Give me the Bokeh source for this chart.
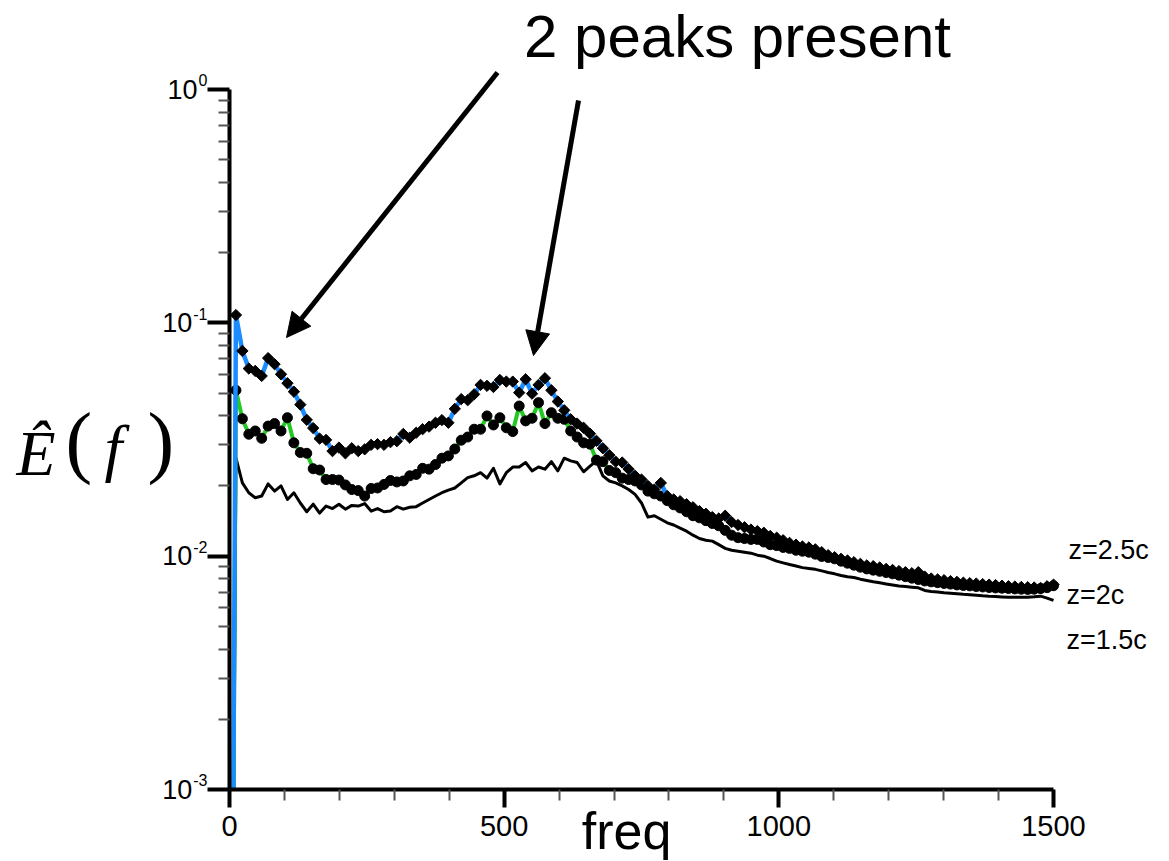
import numpy as np
from bokeh.plotting import figure
from bokeh.models import Label, Arrow, NormalHead, FixedTicker, CustomJSTickFormatter
from bokeh.embed import file_html
from bokeh.resources import INLINE

# ---------------- data ----------------
N_BINS = 129
freq = np.arange(N_BINS) * (1500.0 / 128)   # frequency bins (uniform grid)

e_z25 = [1e-6,
    0.108, 0.0758, 0.0637, 0.0622, 0.0592, 0.0706, 0.0665, 0.0602, 0.0551, 0.0507,
    0.0446, 0.0384, 0.0354, 0.0319, 0.0315, 0.0282, 0.0292, 0.0276, 0.0290, 0.0282,
    0.0287, 0.0300, 0.0302, 0.0300, 0.0308, 0.0311, 0.0334, 0.0322, 0.0338, 0.0350,
    0.0359, 0.0373, 0.0383, 0.0373, 0.0428, 0.0471, 0.0466, 0.0494, 0.0542, 0.0537,
    0.0531, 0.0569, 0.0560, 0.0560, 0.0502, 0.0573, 0.0497, 0.0542, 0.0579, 0.0514,
    0.0460, 0.0422, 0.0386, 0.0370, 0.0355, 0.0335, 0.0312, 0.0290, 0.0271, 0.0254,
    0.0252, 0.0236, 0.0221, 0.0213, 0.0200, 0.0193, 0.0206, 0.0181, 0.0175, 0.0172,
    0.0167, 0.0162, 0.0156, 0.0152, 0.0147, 0.0145, 0.0149, 0.0140, 0.0136, 0.0133,
    0.0130, 0.0128, 0.0126, 0.0122, 0.0120, 0.0117, 0.0114, 0.0112, 0.0110, 0.0109,
    0.0107, 0.0104, 0.0101, 0.00990, 0.00974, 0.00958, 0.00942, 0.00927, 0.00913, 0.00906,
    0.00894, 0.00882, 0.00873, 0.00863, 0.00854, 0.00845, 0.00854, 0.00817, 0.00802, 0.00795,
    0.00789, 0.00782, 0.00776, 0.00770, 0.00766, 0.00763, 0.00759, 0.00755, 0.00752, 0.00747,
    0.00743, 0.00741, 0.00738, 0.00736, 0.00734, 0.00731, 0.00743, 0.00755]

e_z20 = [1e-6,
    0.0514, 0.0388, 0.0333, 0.0344, 0.0320, 0.0361, 0.0370, 0.0344, 0.0392, 0.0306,
    0.0278, 0.0276, 0.0237, 0.0234, 0.0213, 0.0213, 0.0212, 0.0202, 0.0193, 0.0191,
    0.0181, 0.0195, 0.0196, 0.0203, 0.0211, 0.0208, 0.0210, 0.0221, 0.0224, 0.0238,
    0.0236, 0.0247, 0.0263, 0.0269, 0.0288, 0.0314, 0.0324, 0.0350, 0.0350, 0.0399,
    0.0365, 0.0392, 0.0355, 0.0342, 0.0440, 0.0380, 0.0390, 0.0455, 0.0370, 0.0412,
    0.0390, 0.0386, 0.0344, 0.0324, 0.0306, 0.0302, 0.0258, 0.0254, 0.0233, 0.0228,
    0.0216, 0.0213, 0.0210, 0.0202, 0.0190, 0.0185, 0.0181, 0.0173, 0.0166, 0.0161,
    0.0155, 0.0149, 0.0146, 0.0142, 0.0138, 0.0135, 0.0129, 0.0123, 0.0120, 0.0119,
    0.0118, 0.0118, 0.0115, 0.0112, 0.0111, 0.0109, 0.0108, 0.0106, 0.0105, 0.0104,
    0.0102, 0.00997, 0.00987, 0.00974, 0.00952, 0.00933, 0.00915, 0.00897, 0.00882, 0.00871,
    0.00861, 0.00851, 0.00840, 0.00829, 0.00817, 0.00805, 0.00794, 0.00783, 0.00776, 0.00770,
    0.00764, 0.00759, 0.00753, 0.00749, 0.00746, 0.00741, 0.00738, 0.00734, 0.00731, 0.00729,
    0.00727, 0.00724, 0.00722, 0.00720, 0.00722, 0.00726, 0.00733, 0.00747]

e_z15 = [1e-6,
    0.0264, 0.0206, 0.0187, 0.0178, 0.0181, 0.0204, 0.0190, 0.0200, 0.0175, 0.0187,
    0.0169, 0.0155, 0.0167, 0.0153, 0.0164, 0.0160, 0.0167, 0.0159, 0.0165, 0.0164,
    0.0168, 0.0156, 0.0160, 0.0155, 0.0156, 0.0163, 0.0159, 0.0162, 0.0163, 0.0169,
    0.0175, 0.0181, 0.0187, 0.0192, 0.0196, 0.0206, 0.0217, 0.0221, 0.0228, 0.0216,
    0.0238, 0.0204, 0.0228, 0.0241, 0.0241, 0.0252, 0.0232, 0.0241, 0.0236, 0.0254,
    0.0232, 0.0263, 0.0256, 0.0252, 0.0230, 0.0243, 0.0256, 0.0221, 0.0210, 0.0206,
    0.0200, 0.0193, 0.0184, 0.0169, 0.0147, 0.0149, 0.0144, 0.0139, 0.0136, 0.0132,
    0.0128, 0.0123, 0.0119, 0.0117, 0.0116, 0.0112, 0.0108, 0.0106, 0.0105, 0.0104,
    0.0103, 0.0101, 0.0100, 0.00977, 0.00952, 0.00936, 0.00921, 0.00908, 0.00893, 0.00886,
    0.00878, 0.00865, 0.00851, 0.00840, 0.00826, 0.00817, 0.00810, 0.00797, 0.00787, 0.00777,
    0.00769, 0.00760, 0.00752, 0.00745, 0.00741, 0.00736, 0.00732, 0.00713, 0.00706, 0.00702,
    0.00697, 0.00694, 0.00690, 0.00686, 0.00683, 0.00680, 0.00676, 0.00673, 0.00671, 0.00669,
    0.00667, 0.00667, 0.00667, 0.00667, 0.00670, 0.00674, 0.00661, 0.00646]

series_names = ["z=2.5c", "z=2c", "z=1.5c"]
x_major = [0, 500, 1000, 1500]
x_minor = [100, 200, 300, 400, 600, 700, 800, 900, 1100, 1200, 1300, 1400]
y_major = [1e-3, 1e-2, 1e-1, 1.0]
y_exponents = ["-3", "-2", "-1", "0"]
y_minor = [m * 10.0 ** e for e in (-3, -2, -1) for m in range(2, 10)]
title_text = "2 peaks present"
x_title = "freq"

# ---------------- layout ----------------
W, H = 1169, 861
L, R, T, B = 229, 1053, 89, 789          # where the axes box sits on the page
X0, X1, Y0, Y1 = 0.0, 1500.0, 1e-3, 1.0  # axis extents
BASE_SHIFT = 0.38                        # label baseline correction (em)


def fx(px):
    return float(X0 + (px - L) * (X1 - X0) / (R - L))


def fy(py):
    return float(10 ** (np.log10(Y1) - (py - T) * (np.log10(Y1) - np.log10(Y0)) / (B - T)))


def clip_low(x, y, ymin):
    """clip a polyline (log-y) to y >= ymin, like the frame of the original axes"""
    xs, ys = [], []
    ly = np.log10(np.asarray(y, dtype=float))
    lm = np.log10(ymin)
    for i in range(len(x)):
        if i > 0 and (ly[i - 1] < lm) != (ly[i] < lm):
            t = (lm - ly[i - 1]) / (ly[i] - ly[i - 1])
            xs.append(x[i - 1] + t * (x[i] - x[i - 1]))
            ys.append(ymin)
        if ly[i] >= lm:
            xs.append(x[i])
            ys.append(y[i])
    return xs, ys


# the frame covers the whole page; the axes are pinned at x=0 and y=1e-3
p = figure(width=W, height=H, x_range=(fx(0), fx(W)), y_range=(fy(H), fy(0)),
           y_axis_type="log", output_backend="svg", toolbar_location=None,
           min_border_left=0, min_border_right=0, min_border_top=0,
           min_border_bottom=0)
p.outline_line_color = None
p.grid.visible = False
p.background_fill_color = "white"
p.border_fill_color = "white"

SANS = "Liberation Sans"
SERIF = "Liberation Serif"

for ax in (p.xaxis[0], p.yaxis[0]):
    ax.axis_line_width = 4
    ax.axis_line_color = "black"
    ax.major_tick_line_width = 4
    ax.major_tick_line_color = "black"
    ax.major_tick_in = 0
    ax.minor_tick_in = 0
    ax.minor_tick_out = 11
    ax.minor_tick_line_width = 2
    ax.minor_tick_line_color = "#555555"

xa = p.xaxis[0]
xa.fixed_location = Y0
xa.bounds = (X0, X1)
xa.ticker = FixedTicker(ticks=x_major, minor_ticks=x_minor)
xa.major_tick_out = 18
xa.major_label_text_font = SANS
xa.major_label_text_font_size = "29px"
xa.major_label_text_color = "black"
xa.major_label_standoff = 8

ya = p.yaxis[0]
ya.fixed_location = X0
ya.bounds = (Y0, Y1)
ya.ticker = FixedTicker(ticks=y_major, minor_ticks=y_minor)
ya.major_tick_out = 22
ya.formatter = CustomJSTickFormatter(code="return ' '")
ya.major_label_text_font_size = "10px"
ya.major_label_standoff = 0

# ---------------- series ----------------
x15, y15 = clip_low(freq, e_z15, Y0)
x20, y20 = clip_low(freq, e_z20, Y0)
x25, y25 = clip_low(freq, e_z25, Y0)
m20 = np.asarray(e_z20) >= Y0
m25 = np.asarray(e_z25) >= Y0

p.line(x15, y15, line_color="black", line_width=3, line_join="round")
p.line(x20, y20, line_color="#22c922", line_width=4, line_join="round")
p.scatter(freq[m20], np.asarray(e_z20)[m20], marker="circle", size=10,
          fill_color="black", line_color="black")
p.line(x25, y25, line_color="#1a8cff", line_width=4.5, line_join="round")
p.scatter(freq[m25], np.asarray(e_z25)[m25], marker="square", angle=np.pi / 4,
          size=8, fill_color="black", line_color="black")


def lab(text, px, py, size, align="left", font=SANS, style="normal"):
    """text whose alphabetic baseline sits at page pixel row py"""
    p.add_layout(Label(x=fx(px), y=fy(py - BASE_SHIFT * size), text=text,
                       text_font=font, text_font_size=f"{size}px",
                       text_align=align, text_baseline="alphabetic",
                       text_font_style=style, text_color="black"))


# y tick labels 10^n
CW = {"-": 0.333}
for v, e in zip(y_major, y_exponents):
    sup_size = 16
    sup_w = sum(CW.get(c, 0.556) for c in e) * sup_size
    sup_left = L - 22 - sup_w
    ty = T + (np.log10(Y1) - np.log10(v)) * (B - T) / 3.0
    lab("10", sup_left - 1, ty + 10, 27, align="right")
    lab(e, sup_left, ty - 3, sup_size)

# series labels at the right
lab(series_names[0], 1068, 560, 27)
lab(series_names[1], 1066, 605, 27)
lab(series_names[2], 1066, 650, 27)

# axis titles
lab(x_title, 626, 850, 52, align="center")
lab("\u00ca", 16, 477, 64, font=SERIF, style="italic")
lab("(", 65, 471, 80, font=SERIF)
lab("f", 104, 471, 64, font=SERIF, style="italic")
lab(")", 147, 471, 80, font=SERIF)

# annotation
lab(title_text, 737, 59, 60, align="center")
for (sx, sy, ex, ey) in [(497, 72, 286, 337), (578, 100, 533, 355)]:
    p.add_layout(Arrow(end=NormalHead(size=24, fill_color="black", line_color="black"),
                       x_start=fx(sx), y_start=fy(sy), x_end=fx(ex), y_end=fy(ey),
                       line_width=5, line_color="black"))

open("out.html", "w").write(file_html(p, INLINE))
